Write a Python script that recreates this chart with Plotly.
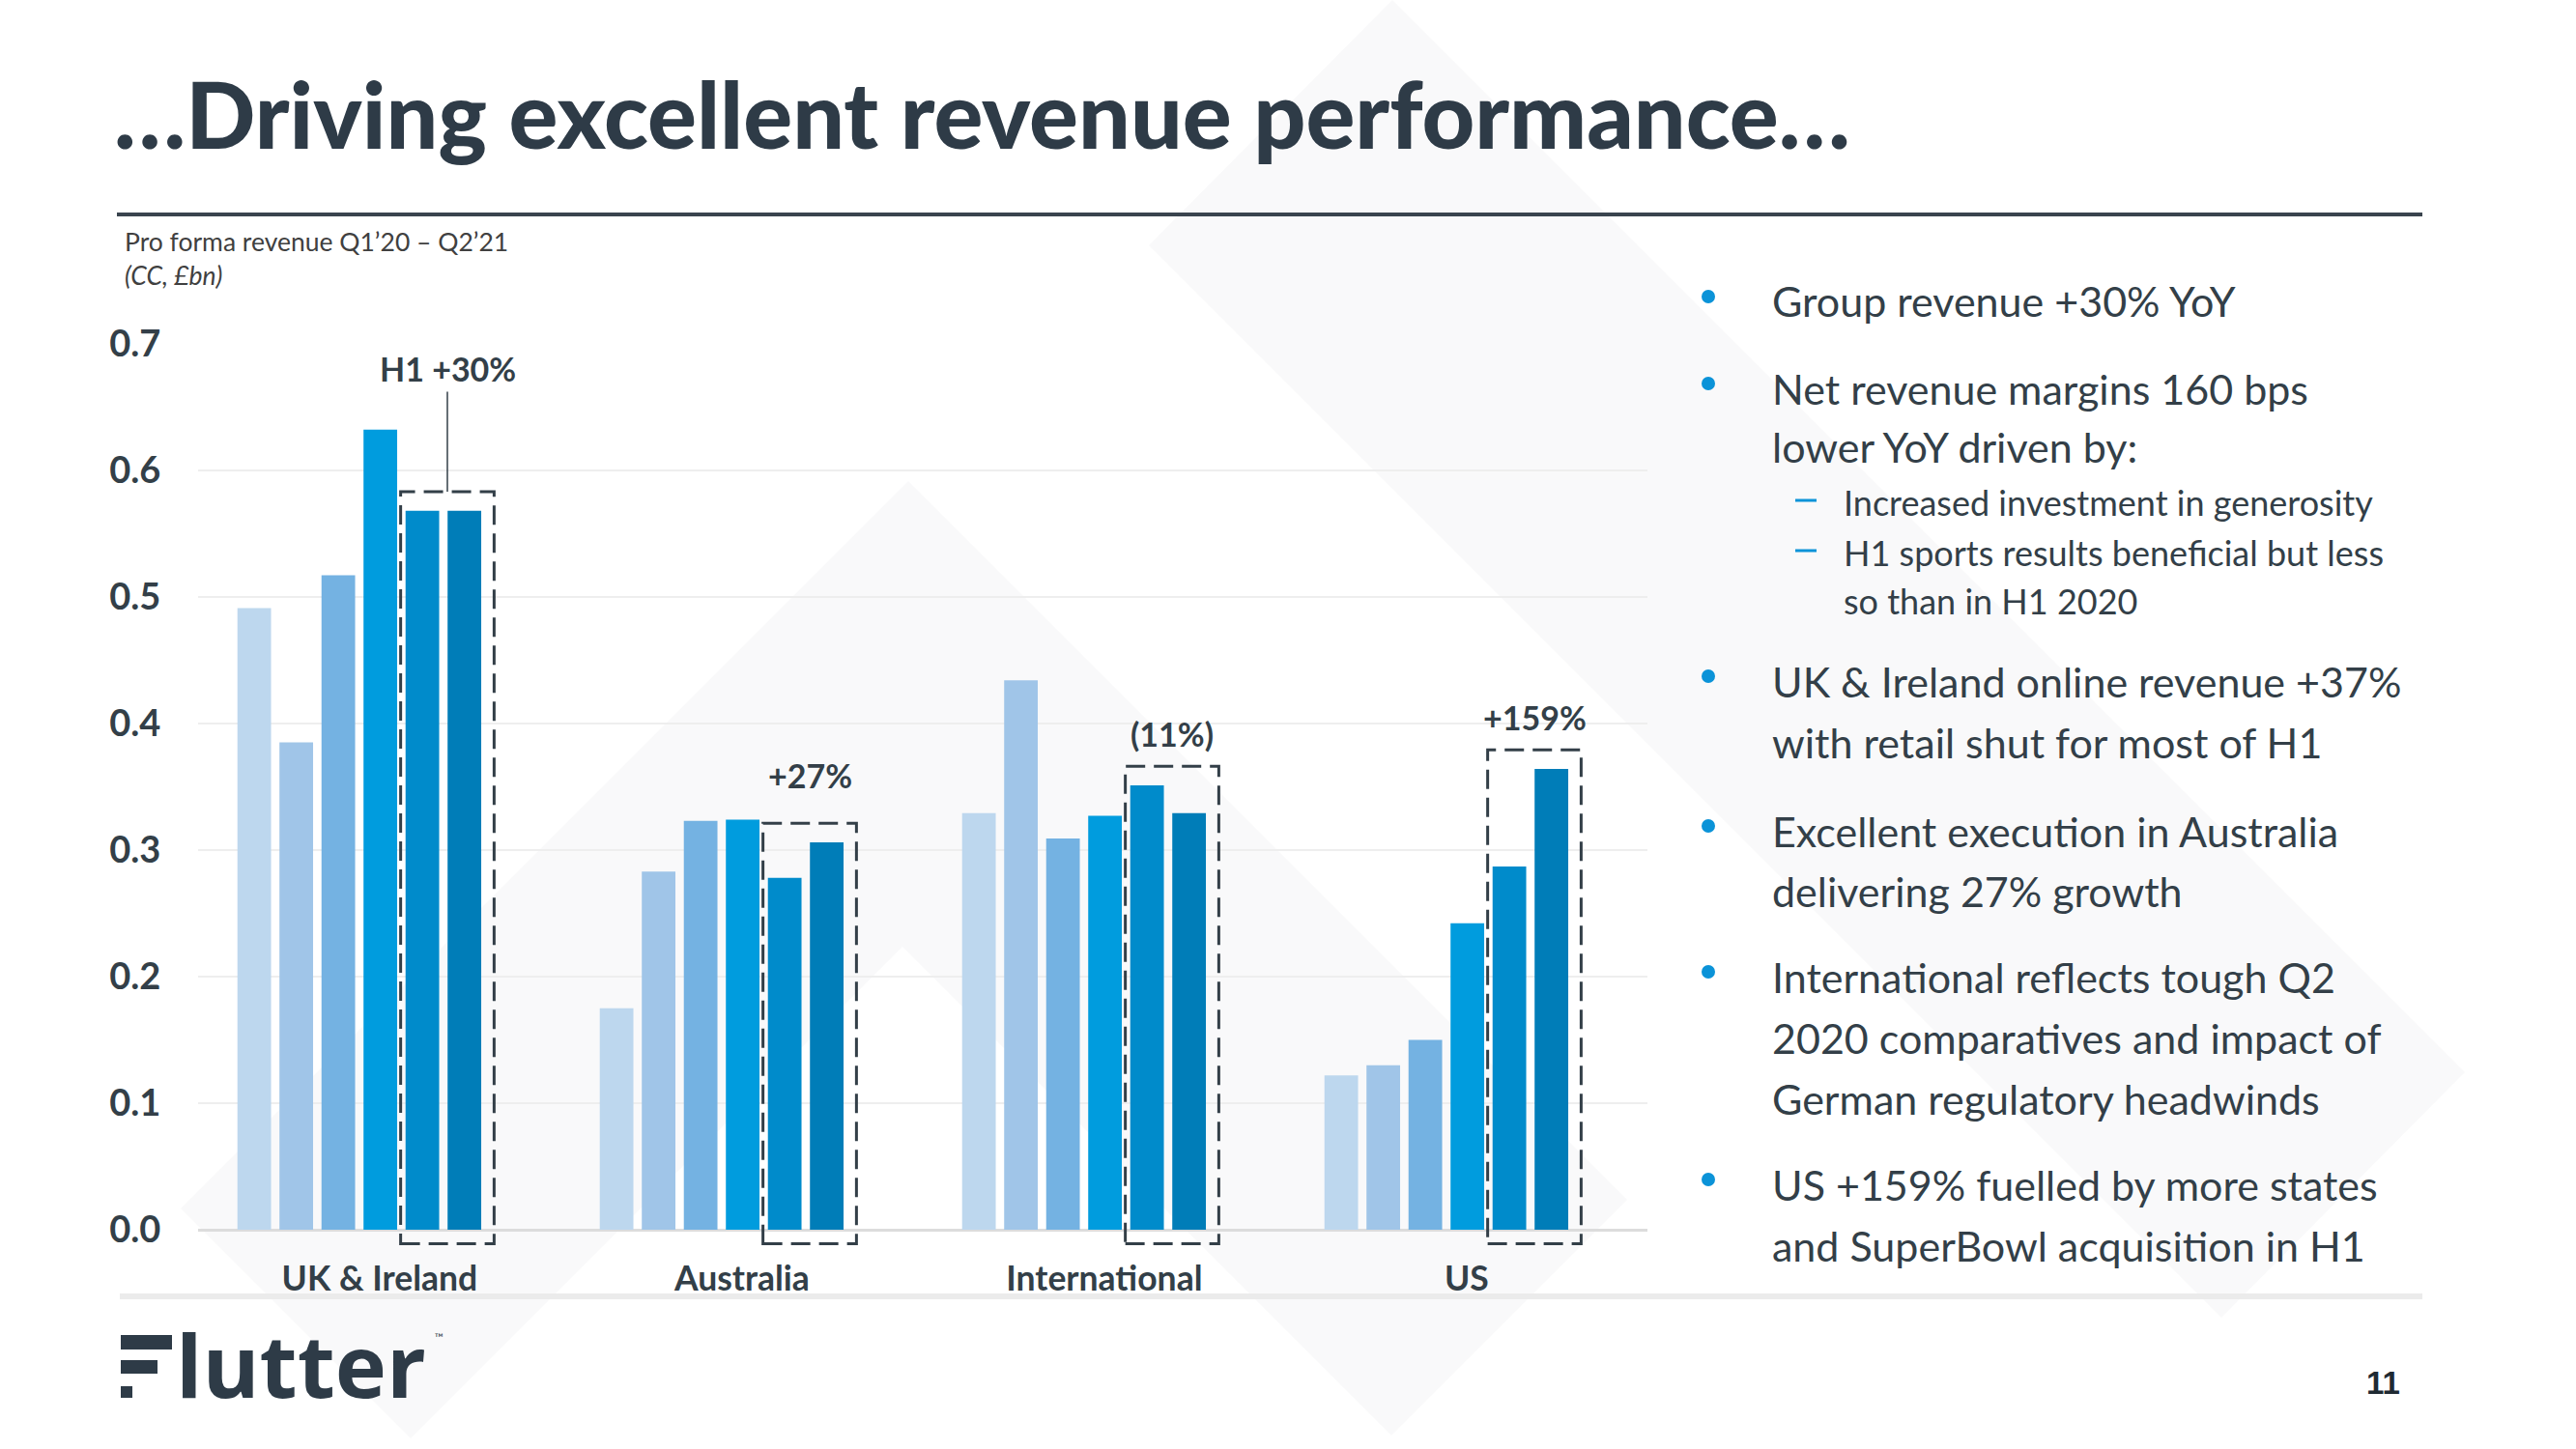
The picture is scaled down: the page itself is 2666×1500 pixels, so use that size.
import plotly.graph_objects as go

W, H = 2666, 1500

# ---------------- data ----------------
categories = ["UK & Ireland", "Australia", "International", "US"]
quarters = ["Q1'20", "Q2'20", "Q3'20", "Q4'20", "Q1'21", "Q2'21"]
q1_20 = [0.491, 0.175, 0.329, 0.122]
q2_20 = [0.385, 0.283, 0.434, 0.130]
q3_20 = [0.517, 0.323, 0.309, 0.150]
q4_20 = [0.632, 0.324, 0.327, 0.242]
q1_21 = [0.568, 0.278, 0.351, 0.287]
q2_21 = [0.568, 0.306, 0.329, 0.364]
series = [q1_20, q2_20, q3_20, q4_20, q1_21, q2_21]

growth_labels = ["H1 +30%", "+27%", "(11%)", "+159%"]
growth_label_y = [0.680, 0.359, 0.392, 0.405]

y_ticks = [0.0, 0.1, 0.2, 0.3, 0.4, 0.5, 0.6, 0.7]

title_text = "\u2026Driving excellent revenue performance\u2026"
subtitle_text = "Pro forma revenue Q1\u201920 \u2013 Q2\u201921"
unit_text = "(CC, \u00a3bn)"

bullet_lines = [
    ("dot", "Group revenue +30% YoY"),
    ("dot", "Net revenue margins 160 bps"),
    ("", "lower YoY driven by:"),
    ("dash", "Increased investment in generosity"),
    ("dash", "H1 sports results beneficial but less"),
    ("sub", "so than in H1 2020"),
    ("dot", "UK & Ireland online revenue +37%"),
    ("", "with retail shut for most of H1"),
    ("dot", "Excellent execution in Australia"),
    ("", "delivering 27% growth"),
    ("dot", "International reflects tough Q2"),
    ("", "2020 comparatives and impact of"),
    ("", "German regulatory headwinds"),
    ("dot", "US +159% fuelled by more states"),
    ("", "and SuperBowl acquisition in H1"),
]
page_number = "11"

# ---------------- style ----------------
bar_colors = ["#BDD7EE", "#A0C5E8", "#74B2E2", "#009CDE", "#008BCB", "#007DB8"]
DARK = "#333F48"
BLUE = "#0B93D8"
FONT = "Lato"
line_y_px = [312, 402, 463, 520, 572, 622, 705, 768, 860, 922, 1011, 1074, 1137, 1226, 1289]


def px(x):
    return x / W


def py(y):
    return 1 - y / H


fig = go.Figure()
for q, vals, col in zip(quarters, series, bar_colors):
    fig.add_trace(go.Bar(x=categories, y=vals, name=q, marker=dict(color=col, line=dict(width=0)),
                         showlegend=False, hoverinfo="x+y+name"))

shapes = []
annotations = []

# faint background decoration
BG = "#F9F9FA"
shapes.append(dict(type="path", xref="paper", yref="paper", layer="below",
                   path=f"M {px(1441)} {py(0)} L {px(2551)} {py(1110)} L {px(2299)} {py(1364)} L {px(1189)} {py(254)} Z",
                   fillcolor=BG, line=dict(width=0)))
shapes.append(dict(type="path", xref="paper", yref="paper", layer="below",
                   path=(f"M {px(940)} {py(498)} L {px(1684)} {py(1242)} L {px(1440)} {py(1486)} "
                         f"L {px(934)} {py(980)} L {px(425)} {py(1489)} L {px(187)} {py(1251)} Z"),
                   fillcolor=BG, line=dict(width=0)))

# dashed highlight boxes around H1'21 bars
box_x0, box_x1, box_pad, box_bottom = 0.114, 0.372, 0.015, -0.011
for i, cat in enumerate(categories):
    top = max(q1_21[i], q2_21[i]) + box_pad
    shapes.append(dict(type="rect", xref="x", yref="y", layer="above",
                       x0=i + box_x0, x1=i + box_x1, y0=box_bottom, y1=top,
                       line=dict(color=DARK, width=3, dash="20px,9px"), fillcolor="rgba(0,0,0,0)"))
    cx = i + (box_x0 + box_x1) / 2
    annotations.append(dict(xref="x", yref="y", x=cx, y=growth_label_y[i], text=f"<b>{growth_labels[i]}</b>",
                            showarrow=False, xanchor="center", yanchor="middle",
                            font=dict(family=FONT, size=34, color=DARK)))
    if i == 0:
        shapes.append(dict(type="line", xref="x", yref="y", x0=cx, x1=cx, y0=top, y1=growth_label_y[i] - 0.018,
                           line=dict(color=DARK, width=1.5)))

# rules
shapes.append(dict(type="line", xref="paper", yref="paper", x0=px(121), x1=px(2507), y0=py(222), y1=py(222),
                   line=dict(color="#3A444E", width=4)))
shapes.append(dict(type="line", xref="paper", yref="paper", layer="below", x0=px(124), x1=px(2507),
                   y0=py(1342), y1=py(1342), line=dict(color="#EBEBEB", width=6)))

# title / subtitle
annotations.append(dict(xref="paper", yref="paper", x=px(116), y=py(117), text=title_text,
                        showarrow=False, xanchor="left", yanchor="middle",
                        font=dict(family=FONT, size=95, color="#2E3B47", weight=900)))
annotations.append(dict(xref="paper", yref="paper", x=px(127), y=py(250), text=subtitle_text,
                        showarrow=False, xanchor="left", yanchor="middle",
                        font=dict(family=FONT, size=26.5, color="#404040")))
annotations.append(dict(xref="paper", yref="paper", x=px(127), y=py(285), text=f"<i>{unit_text}</i>",
                        showarrow=False, xanchor="left", yanchor="middle",
                        font=dict(family=FONT, size=26.5, color="#404040")))

# bullets
for (kind, txt), yy in zip(bullet_lines, line_y_px):
    if kind in ("dash", "sub"):
        annotations.append(dict(xref="paper", yref="paper", x=px(1906), y=py(yy), text=txt,
                                showarrow=False, xanchor="left", yanchor="middle",
                                font=dict(family=FONT, size=36, color=DARK)))
        if kind == "dash":
            shapes.append(dict(type="line", xref="paper", yref="paper", x0=px(1858), x1=px(1880),
                               y0=py(yy - 2), y1=py(yy - 2), line=dict(color=BLUE, width=3)))
    else:
        annotations.append(dict(xref="paper", yref="paper", x=px(1832), y=py(yy), text=txt,
                                showarrow=False, xanchor="left", yanchor="middle",
                                font=dict(family=FONT, size=43, color=DARK)))
        if kind == "dot":
            shapes.append(dict(type="circle", xref="paper", yref="paper",
                               x0=px(1761), x1=px(1775), y0=py(yy - 12), y1=py(yy + 2),
                               fillcolor=BLUE, line=dict(width=0)))

# Flutter logo
for (x0, x1, y0, y1) in [(125, 178, 1382, 1397), (125, 163, 1408, 1422), (125, 137, 1435, 1447)]:
    shapes.append(dict(type="rect", xref="paper", yref="paper", x0=px(x0), x1=px(x1), y0=py(y1), y1=py(y0),
                       fillcolor="#2E3B47", line=dict(width=0)))
annotations.append(dict(xref="paper", yref="paper", x=px(180), y=py(1412), text="<b>lutter</b>",
                        showarrow=False, xanchor="left", yanchor="middle",
                        font=dict(family="Open Sans", size=90, color="#2E3B47")))
annotations.append(dict(xref="paper", yref="paper", x=px(448), y=py(1384), text="\u2122",
                        showarrow=False, xanchor="left", yanchor="middle",
                        font=dict(family=FONT, size=12, color="#2E3B47")))

# page number
annotations.append(dict(xref="paper", yref="paper", x=px(2466), y=py(1431), text=f"<b>{page_number}</b>",
                        showarrow=False, xanchor="center", yanchor="middle",
                        font=dict(family="Liberation Sans", size=33, color="#1F2A33")))

y_top_px, y_zero_px = 355, 1273
y_min = -0.014
unit_px = (y_zero_px - y_top_px) / 0.7
y_bottom_px = y_zero_px - y_min * unit_px

fig.update_layout(
    width=W, height=H, autosize=False,
    margin=dict(l=0, r=0, t=0, b=0, pad=0),
    paper_bgcolor="white", plot_bgcolor="rgba(0,0,0,0)",
    barmode="group", bargap=0.304, bargroupgap=0.2,
    shapes=shapes, annotations=annotations,
    xaxis=dict(domain=[px(205), px(1705)], type="category", range=[-0.445, 3.555], automargin=False,
               showgrid=False, zeroline=False, showline=False,
               ticks="outside", ticklen=1, tickcolor="rgba(0,0,0,0)", ticklabelshift=21,
               tickfont=dict(family=FONT, size=35.5, color=DARK, weight="bold")),
    yaxis=dict(domain=[py(y_bottom_px), py(y_top_px)], range=[y_min, 0.7005], automargin=False,
               tickvals=y_ticks, ticktext=[f"{v:.1f}" for v in y_ticks],
               showgrid=True, gridcolor="#EEEEEE", gridwidth=2,
               zeroline=True, zerolinecolor="#DCDCDC", zerolinewidth=3, showline=False,
               ticks="outside", ticklen=30, tickcolor="rgba(0,0,0,0)",
               tickfont=dict(family=FONT, size=38, color=DARK, weight="bold")),
    font=dict(family=FONT, color=DARK),
)

fig.write_html("out.html", config={"displayModeBar": False},
               post_script="document.body.style.margin='0px';")
